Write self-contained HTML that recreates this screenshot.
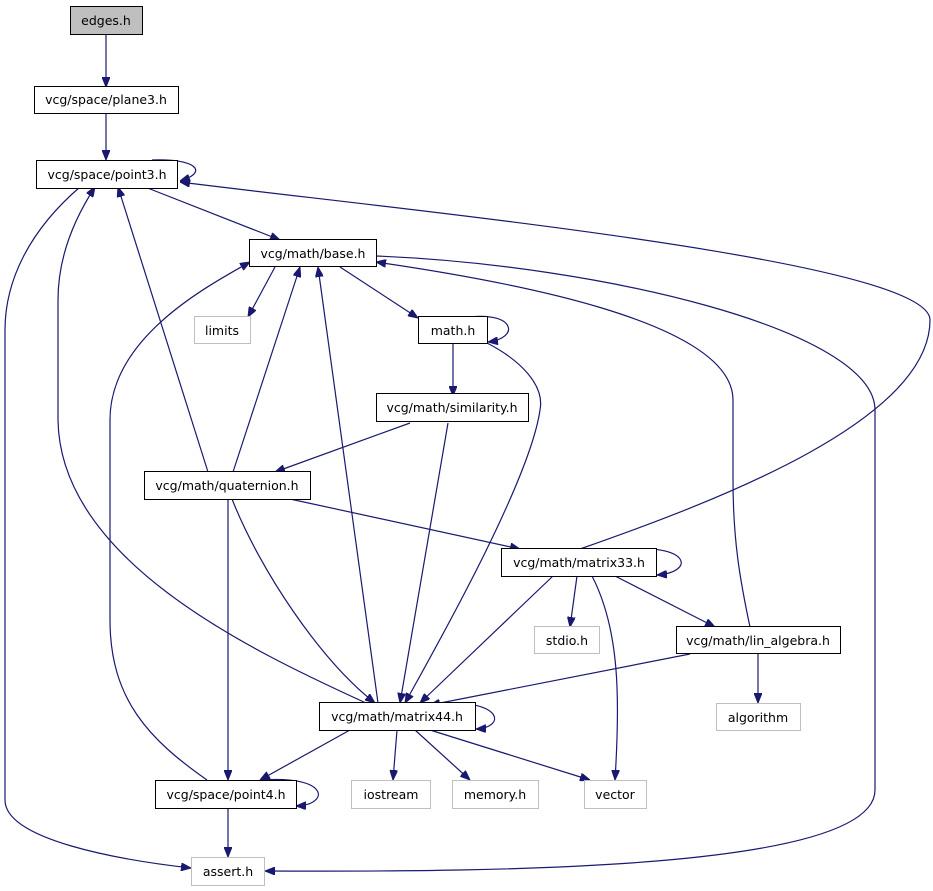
<!DOCTYPE html>
<html><head><meta charset="utf-8"><style>
html,body{margin:0;padding:0;background:#fff}
svg{display:block}
text{font-family:"DejaVu Sans","Liberation Sans",sans-serif;font-size:12.5px;fill:#000;text-anchor:middle}
.n{fill:#fff;stroke:#000;stroke-width:1}
.g{fill:#fff;stroke:#bfbfbf;stroke-width:1}
path.e{fill:none;stroke:#191970;stroke-width:1.2}
</style></head><body>
<svg width="933" height="891" viewBox="0 0 933 891" xmlns="http://www.w3.org/2000/svg">
<defs><marker id="a" markerWidth="10" markerHeight="8" refX="10" refY="4" orient="auto" markerUnits="userSpaceOnUse"><path d="M0,0 L10,4 L0,8 z" fill="#191970" stroke="#191970"/></marker></defs>
<g marker-end="url(#a)">
<path class="e" d="M106,34 L106,87"/>
<path class="e" d="M106,113 L106,160"/>
<path class="e" d="M152,160 C195,158 210,172 180,181"/>
<path class="e" d="M145,187 L280,240"/>
<path class="e" d="M80,187 C30,230 5,280 5,330 L5,800 C5,840 120,860 191,868"/>
<path class="e" d="M275,267 L248,317"/>
<path class="e" d="M340,267 L418,318"/>
<path class="e" d="M376,256 C600,265 875,330 875,410 L875,790 C875,870 500,872 265,871"/>
<path class="e" d="M470,317 C515,312 520,338 488,342"/>
<path class="e" d="M453,343 L453,396"/>
<path class="e" d="M487,343 C520,360 545,385 540,410 C530,480 440,640 405,703"/>
<path class="e" d="M410,423 L275,472"/>
<path class="e" d="M448,423 L400,703"/>
<path class="e" d="M208,472 L118,187"/>
<path class="e" d="M233,472 L300,267"/>
<path class="e" d="M290,499 L520,549"/>
<path class="e" d="M232,499 C260,570 320,660 375,703"/>
<path class="e" d="M228,499 L228,780"/>
<path class="e" d="M580,549 C720,500 930,420 930,320 C930,260 400,210 180,182"/>
<path class="e" d="M630,549 C690,545 695,572 657,575"/>
<path class="e" d="M577,576 L570,627"/>
<path class="e" d="M615,576 L715,627"/>
<path class="e" d="M553,576 L420,703"/>
<path class="e" d="M592,576 C620,630 620,700 615,780"/>
<path class="e" d="M750,627 C740,580 733,540 733,480 L733,400 C733,320 500,280 376,262"/>
<path class="e" d="M758,654 L758,703"/>
<path class="e" d="M690,654 L430,705"/>
<path class="e" d="M440,703 C505,700 505,728 476,729"/>
<path class="e" d="M378,703 L318,267"/>
<path class="e" d="M366,703 C250,650 60,560 58,420 L58,300 C58,250 80,210 95,187"/>
<path class="e" d="M207,780 C150,740 110,700 110,620 L110,420 C110,340 200,290 250,262"/>
<path class="e" d="M350,730 L260,780"/>
<path class="e" d="M397,730 L393,780"/>
<path class="e" d="M415,730 L470,780"/>
<path class="e" d="M430,730 L590,780"/>
<path class="e" d="M262,780 C330,775 330,805 296,806"/>
<path class="e" d="M228,807 L228,857"/>
</g>
<rect x="70.5" y="6.5" width="72" height="28" fill="#bfbfbf" stroke="#000"/><text x="106" y="25">edges.h</text>
<rect class="n" x="34.5" y="86.5" width="144" height="27"/><text x="106" y="104">vcg/space/plane3.h</text>
<rect class="n" x="36.5" y="160.5" width="141" height="28"/><text x="107" y="179">vcg/space/point3.h</text>
<rect class="n" x="249.5" y="239.5" width="127" height="27"/><text x="313" y="258">vcg/math/base.h</text>
<rect class="g" x="194.5" y="316.5" width="56" height="27"/><text x="222" y="335">limits</text>
<rect class="n" x="418.5" y="316.5" width="69" height="27"/><text x="453" y="335">math.h</text>
<rect class="n" x="376.5" y="393.5" width="152" height="28"/><text x="452" y="412">vcg/math/similarity.h</text>
<rect class="n" x="144.5" y="471.5" width="166" height="28"/><text x="227" y="490">vcg/math/quaternion.h</text>
<rect class="n" x="501.5" y="548.5" width="155" height="28"/><text x="579" y="567">vcg/math/matrix33.h</text>
<rect class="g" x="534.5" y="626.5" width="65" height="27"/><text x="567" y="645">stdio.h</text>
<rect class="n" x="676.5" y="626.5" width="164" height="27"/><text x="758" y="645">vcg/math/lin_algebra.h</text>
<rect class="g" x="716.5" y="703.5" width="84" height="27"/><text x="758" y="722">algorithm</text>
<rect class="n" x="319.5" y="702.5" width="156" height="28"/><text x="397" y="721">vcg/math/matrix44.h</text>
<rect class="n" x="155.5" y="780.5" width="141" height="28"/><text x="226" y="799">vcg/space/point4.h</text>
<rect class="g" x="351.5" y="780.5" width="79" height="28"/><text x="391" y="799">iostream</text>
<rect class="g" x="452.5" y="780.5" width="86" height="28"/><text x="495" y="799">memory.h</text>
<rect class="g" x="584.5" y="780.5" width="62" height="28"/><text x="615" y="799">vector</text>
<rect class="g" x="191.5" y="857.5" width="73" height="28"/><text x="228" y="876">assert.h</text>
</svg>
</body></html>
